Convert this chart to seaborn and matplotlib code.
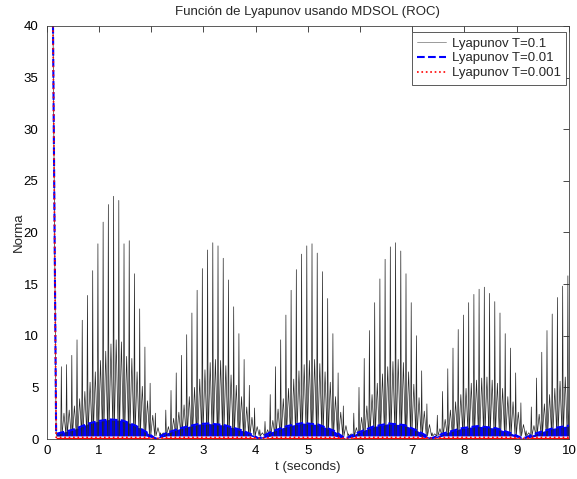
import numpy as np
import pandas as pd
import matplotlib
matplotlib.use("Agg")
import matplotlib.pyplot as plt
import seaborn as sns

# T=0.1 : one spike per sample, peak and small arch between spikes
T_slow = 0.1
t_first = 0.28
black_peaks = [7.0, 7.2, 8.1, 9.6, 11.5, 13.9, 16.3, 18.9, 21.0, 22.7,
               23.5, 23.1, 18.9, 19.2, 16.0, 12.6, 8.9, 5.4, 2.5, 0.6,
               2.8, 4.7, 6.4, 8.1, 10.1, 12.2, 14.4, 16.5, 18.3, 19.0,
               18.7, 17.5, 15.4, 12.8, 10.2, 7.7, 5.2, 3.0, 0.9, 1.7,
               4.3, 7.0, 9.6, 12.0, 14.4, 16.4, 17.9, 18.7, 18.9, 18.0,
               16.2, 13.6, 10.2, 6.4, 3.2, 0.5, 2.5, 5.0, 7.8, 10.5,
               13.2, 15.5, 17.4, 18.6, 19.0, 18.2, 16.0, 13.2, 10.0, 6.6,
               3.4, 0.6, 2.3, 4.6, 6.8, 8.8, 10.6, 12.0, 13.2, 14.0,
               14.5, 14.7, 14.1, 13.3, 12.2, 10.2, 8.8, 6.4, 3.5, 0.8,
               3.1, 5.9, 8.4, 10.5, 12.1, 13.7, 14.8, 15.8]
black_arches = [2.5, 2.8, 3.2, 3.9, 4.6, 5.5, 6.5, 7.6, 8.5, 9.2,
                9.6, 9.4, 8.0, 7.8, 6.5, 5.1, 3.7, 2.3, 1.1, 0.6,
                1.2, 2.0, 2.6, 3.3, 4.1, 5.0, 5.8, 6.7, 7.4, 7.7,
                7.6, 7.1, 6.2, 5.2, 4.1, 3.1, 2.1, 1.2, 0.6, 0.9,
                1.8, 2.9, 3.9, 4.9, 5.8, 6.6, 7.2, 7.6, 7.7, 7.3,
                6.5, 5.5, 4.1, 2.6, 1.3, 0.5, 1.1, 2.1, 3.2, 4.3,
                5.4, 6.3, 7.0, 7.5, 7.7, 7.4, 6.5, 5.3, 4.0, 2.7,
                1.4, 0.5, 1.0, 1.9, 2.8, 3.6, 4.3, 4.9, 5.4, 5.7,
                5.9, 6.0, 5.7, 5.4, 4.9, 4.1, 3.6, 2.6, 1.4, 0.6,
                1.3, 2.4, 3.4, 4.3, 4.9, 5.6, 6.0, 6.4]
black_floor = 0.3

# initial drop (all three start at 40)
drop_t = [0.12, 0.18]
drop_v = [40.0, 0.5]

# T=0.01 : dense oscillation, band between lower and upper envelope
blue_t = [0.18, 0.22, 0.5, 0.8, 1.0, 1.2, 1.45, 1.7, 1.9, 2.08, 2.3, 2.6, 2.9,
          3.1, 3.4, 3.7, 3.9, 4.06, 4.3, 4.6, 4.9, 5.2, 5.5, 5.72, 5.95,
          6.25, 6.55, 6.85, 7.1, 7.36, 7.6, 7.95, 8.25, 8.6, 8.9, 9.12,
          9.4, 9.7, 10.0]
blue_upper = [0.5, 0.55, 0.9, 1.5, 1.75, 1.9, 1.8, 1.3, 0.7, 0.05, 0.6, 1.1,
              1.45, 1.5, 1.35, 0.9, 0.5, 0.05, 0.7, 1.25, 1.55, 1.4, 0.8,
              0.05, 0.6, 1.2, 1.5, 1.35, 0.8, 0.05, 0.55, 1.05, 1.25, 1.05,
              0.55, 0.05, 0.6, 1.05, 1.3]
blue_lower = [0.3, 0.3, 0.3, 0.3, 0.3, 0.3, 0.3, 0.3, 0.3, 0.02, 0.3, 0.3,
              0.3, 0.3, 0.3, 0.3, 0.3, 0.02, 0.3, 0.3, 0.3, 0.3, 0.3,
              0.02, 0.3, 0.3, 0.3, 0.3, 0.3, 0.02, 0.3, 0.3, 0.3, 0.3,
              0.3, 0.02, 0.3, 0.3, 0.3]

# T=0.001 : nearly zero
red_t = [0.18, 0.3, 1.9, 2.1, 2.3, 3.9, 4.1, 4.3, 5.6, 5.75, 5.9, 7.2,
         7.38, 7.55, 8.95, 9.12, 9.3, 10.0]
red_v = [0.16, 0.16, 0.16, 0.05, 0.16, 0.16, 0.05, 0.16, 0.16, 0.05, 0.16,
         0.16, 0.05, 0.16, 0.16, 0.05, 0.16, 0.16]

# build the T=0.1 polyline from the spike lists
bx = list(drop_t)
by = list(drop_v)
bx.append(0.2)
by.append(black_floor)
for k, (p, a) in enumerate(zip(black_peaks, black_arches)):
    tk = t_first + k * T_slow
    bx += [tk - 0.012, tk, tk + 0.012, tk + 0.05, tk + 0.088]
    by += [black_floor, p, black_floor, a, black_floor]

df_black = pd.DataFrame({"t": bx, "v": by})
df_blue = pd.DataFrame({"t": drop_t + blue_t, "v": drop_v + blue_upper})
df_red = pd.DataFrame({"t": drop_t + red_t, "v": drop_v + red_v})

sns.set_style("white")
plt.rcParams["font.family"] = ["Liberation Sans", "DejaVu Sans"]

fig = plt.figure(figsize=(5.77, 4.79), dpi=100)
ax = fig.add_axes([0.081, 0.0835, 0.905, 0.8625])

sns.lineplot(data=df_black, x="t", y="v", ax=ax, color="0.15", lw=0.5,
             estimator=None, sort=False, label="Lyapunov T=0.1")
ax.fill_between(blue_t, blue_lower, blue_upper, color="blue", lw=0)
sns.lineplot(data=df_blue, x="t", y="v", ax=ax, color="blue", lw=1.5,
             linestyle="--", estimator=None, sort=False, label="Lyapunov T=0.01")
ax.fill_between(red_t, 0, red_v, color="red", lw=0)
sns.lineplot(data=df_red, x="t", y="v", ax=ax, color="red", lw=1.2,
             linestyle=":", estimator=None, sort=False, label="Lyapunov T=0.001")

ax.set_xlim(0, 10)
ax.set_ylim(0, 40)
ax.set_xticks(range(0, 11))
ax.set_yticks(range(0, 41, 5))
ax.tick_params(direction="in", top=True, right=True, length=4, width=0.5,
               labelsize=9.5, colors="black")
ax.tick_params(axis="y", pad=6)
ax.tick_params(axis="x", pad=4)
for s in ax.spines.values():
    s.set_color("0.25")
    s.set_linewidth(0.6)

ax.set_title("Función de Lyapunov usando MDSOL (ROC)", fontsize=9.5, pad=8)
ax.set_xlabel("t (seconds)", fontsize=9.5, labelpad=3)
ax.set_ylabel("Norma", fontsize=9.5, labelpad=-1)

leg = ax.legend(loc="upper right", bbox_to_anchor=(0.994, 0.985),
                fontsize=9.5, frameon=True, fancybox=False,
                edgecolor="0.25", framealpha=1, handlelength=2.2,
                borderaxespad=0, labelspacing=0.2, borderpad=0.4,
                handletextpad=0.4)
leg.get_frame().set_linewidth(0.6)
leg.get_lines()[0].set_color("0.45")

fig.savefig("out.png", dpi=100)
